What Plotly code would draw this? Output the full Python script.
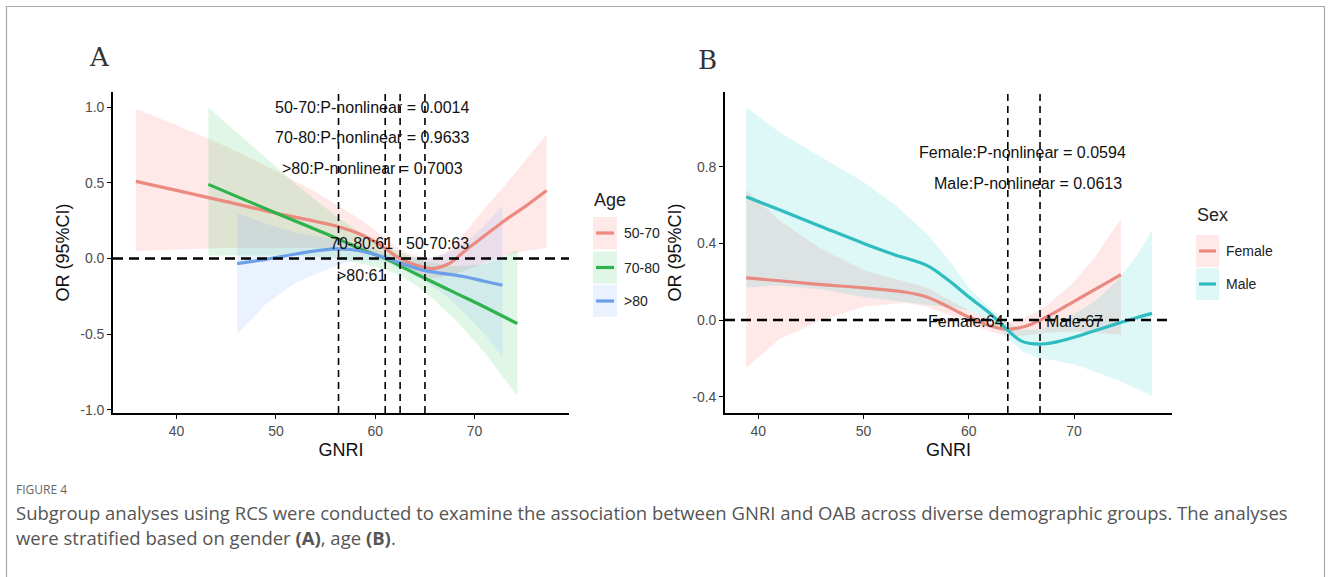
import plotly.graph_objects as go

W, H = 1330, 577

# ---------------- Panel A data (Age) ----------------
ageA_groups = ["50-70", "70-80", ">80"]
a1_x = [35.9, 40, 45, 50, 54, 56.3, 58.5, 60.5, 62, 63.5, 65, 66, 67.5, 69, 71, 73, 75, 77.25]
a1_y = [0.51, 0.45, 0.376, 0.30, 0.245, 0.21, 0.16, 0.09, 0.02, -0.03, -0.06, -0.065, -0.03, 0.05, 0.15, 0.25, 0.34, 0.45]
a1_lo = [0.05, 0.06, 0.07, 0.07, 0.07, 0.07, 0.05, 0.02, -0.04, -0.09, -0.12, -0.13, -0.11, -0.08, -0.03, 0.02, 0.05, 0.07]
a1_hi = [0.99, 0.88, 0.74, 0.58, 0.44, 0.35, 0.26, 0.16, 0.08, 0.03, 0.0, 0.0, 0.06, 0.17, 0.33, 0.48, 0.64, 0.82]

a2_x = [43.2, 48, 52, 56.25, 59, 61, 63, 65, 68, 71, 74.3]
a2_y = [0.49, 0.356, 0.246, 0.13, 0.05, 0.0, -0.065, -0.13, -0.225, -0.32, -0.43]
a2_lo = [0.02, 0.02, 0.02, 0.0, -0.04, -0.07, -0.13, -0.22, -0.4, -0.62, -0.91]
a2_hi = [1.0, 0.72, 0.49, 0.27, 0.15, 0.08, 0.03, -0.02, -0.05, -0.04, 0.055]

a3_x = [46.1, 49, 52, 55.5, 57.5, 59.5, 61.25, 63, 65, 67, 69, 71, 72.8]
a3_y = [-0.033, -0.005, 0.03, 0.062, 0.06, 0.035, 0.0, -0.04, -0.08, -0.1, -0.12, -0.15, -0.176]
a3_lo = [-0.5, -0.3, -0.16, -0.06, -0.02, -0.01, -0.03, -0.08, -0.15, -0.24, -0.36, -0.5, -0.65]
a3_hi = [0.3, 0.23, 0.17, 0.13, 0.11, 0.07, 0.03, 0.01, 0.0, 0.03, 0.1, 0.22, 0.35]

cutsA = [56.3, 61.0, 62.5, 65.0]
pTextA = ["50-70:P-nonlinear = 0.0014", "70-80:P-nonlinear = 0.9633", ">80:P-nonlinear = 0.7003"]
pTextA_x = [59.7, 59.7, 59.7]
pTextA_y = [0.995, 0.80, 0.593]
cutTextA = ["70-80:61", ">80:61", "50-70:63"]
cutTextA_x = [58.6, 58.6, 66.3]
cutTextA_y = [0.10, -0.11, 0.10]

xticksA = [40, 50, 60, 70]
yticksA = [1.0, 0.5, 0.0, -0.5, -1.0]
yticklabA = ["1.0", "0.5", "0.0", "-0.5", "-1.0"]

# ---------------- Panel B data (Sex) ----------------
sexB_groups = ["Female", "Male"]
b1_x = [38.84, 42, 46, 50, 54, 56, 58, 60, 62, 63.6, 64.8, 66, 67.5, 70, 72, 74.45]
b1_y = [0.22, 0.205, 0.185, 0.168, 0.145, 0.12, 0.07, 0.015, -0.03, -0.048, -0.04, -0.02, 0.02, 0.098, 0.16, 0.237]
b1_lo = [-0.25, -0.1, 0.0, 0.07, 0.09, 0.07, 0.03, -0.02, -0.06, -0.08, -0.085, -0.075, -0.065, -0.06, -0.065, -0.075]
b1_hi = [0.68, 0.52, 0.37, 0.26, 0.2, 0.17, 0.11, 0.05, 0.0, -0.015, 0.0, 0.03, 0.08, 0.2, 0.33, 0.53]

b2_x = [38.84, 42, 46, 50, 53, 56, 58, 60, 62, 63.6, 65, 66.7, 68, 70, 72, 74, 76, 77.4]
b2_y = [0.644, 0.575, 0.487, 0.40, 0.34, 0.285, 0.21, 0.12, 0.035, -0.048, -0.11, -0.126, -0.118, -0.09, -0.055, -0.02, 0.013, 0.035]
b2_lo = [0.17, 0.18, 0.16, 0.12, 0.10, 0.08, 0.07, 0.05, 0.0, -0.09, -0.16, -0.2, -0.21, -0.23, -0.27, -0.31, -0.36, -0.395]
b2_hi = [1.11, 0.98, 0.85, 0.72, 0.60, 0.45, 0.32, 0.17, 0.06, -0.01, -0.05, -0.05, -0.03, 0.03, 0.1, 0.2, 0.34, 0.47]

cutsB = [63.7, 66.76]
pTextB = ["Female:P-nonlinear = 0.0594", "Male:P-nonlinear = 0.0613"]
pTextB_x = [65.05, 65.6]
pTextB_y = [0.873, 0.713]
cutTextB = ["Female:64", "Male:67"]
cutTextB_x = [59.74, 70.0]
cutTextB_y = [-0.01, -0.01]

xticksB = [40, 50, 60, 70]
yticksB = [0.8, 0.4, 0.0, -0.4]
yticklabB = ["0.8", "0.4", "0.0", "-0.4"]

caption_label = "FIGURE 4"
caption_l1 = "Subgroup analyses using RCS were conducted to examine the association between GNRI and OAB across diverse demographic groups. The analyses"
caption_l2 = "were stratified based on gender <b>(A)</b>, age <b>(B)</b>."

# ---------------- styling ----------------
lineA = ["#EC8A80", "#2DB24C", "#6C9FEA"]
fillA = ["rgba(248,118,109,0.16)", "rgba(0,186,56,0.12)", "rgba(97,156,255,0.13)"]
lineB = ["#E98A82", "#2DBDC0"]
fillB = ["rgba(248,118,109,0.16)", "rgba(0,191,196,0.13)"]

FONT = "Liberation Sans, Arial, sans-serif"
CAPFONT = "Open Sans, Noto Sans, sans-serif"

def px_x(p):
    return p / W

def px_y(p):
    return 1 - p / H

fig = go.Figure()

def add_group(x, lo, hi, fill, xa, ya):
    fig.add_trace(go.Scatter(
        x=list(x) + list(x)[::-1], y=list(hi) + list(lo)[::-1],
        fill="toself", fillcolor=fill, line=dict(width=0), mode="lines",
        hoverinfo="skip", showlegend=False, xaxis=xa, yaxis=ya))

def add_line(x, y, color, xa, ya, name):
    fig.add_trace(go.Scatter(
        x=x, y=y, mode="lines", line=dict(color=color, width=3.2, shape="spline", smoothing=1.0),
        name=name, showlegend=False, xaxis=xa, yaxis=ya))

seriesA = [(a1_x, a1_y, a1_lo, a1_hi), (a2_x, a2_y, a2_lo, a2_hi), (a3_x, a3_y, a3_lo, a3_hi)]
for i, (x, y, lo, hi) in enumerate(seriesA):
    add_group(x, lo, hi, fillA[i], "x", "y")
for i, (x, y, lo, hi) in enumerate(seriesA):
    add_line(x, y, lineA[i], "x", "y", ageA_groups[i])

seriesB = [(b1_x, b1_y, b1_lo, b1_hi), (b2_x, b2_y, b2_lo, b2_hi)]
for i, (x, y, lo, hi) in enumerate(seriesB):
    add_group(x, lo, hi, fillB[i], "x2", "y2")
for i, (x, y, lo, hi) in enumerate(seriesB):
    add_line(x, y, lineB[i], "x2", "y2", sexB_groups[i])

shapes = []
for c in cutsA:
    shapes.append(dict(type="line", xref="x", yref="y domain", x0=c, x1=c, y0=0, y1=1,
                       line=dict(color="black", width=1.6, dash="7px,5px")))
shapes.append(dict(type="line", xref="x domain", yref="y", x0=0, x1=1, y0=0, y1=0,
                   line=dict(color="black", width=2.6, dash="10px,6px")))
for c in cutsB:
    shapes.append(dict(type="line", xref="x2", yref="y2 domain", x0=c, x1=c, y0=0, y1=1,
                       line=dict(color="black", width=1.6, dash="7px,5px")))
shapes.append(dict(type="line", xref="x2 domain", yref="y2", x0=0, x1=1, y0=0, y1=0,
                   line=dict(color="black", width=2.6, dash="10px,6px")))

# frame border
shapes.append(dict(type="path", xref="paper", yref="paper",
                   path=f"M {px_x(6.5)} 0 L {px_x(6.5)} {px_y(6.5)} L {px_x(1324.5)} {px_y(6.5)} L {px_x(1324.5)} 0",
                   line=dict(color="#a8a8a8", width=1.2)))

annotations = []
def data_text(texts, xs, ys, xr, yr):
    for t, x, y in zip(texts, xs, ys):
        annotations.append(dict(text=t, x=x, y=y, xref=xr, yref=yr, showarrow=False,
                                font=dict(family=FONT, size=16, color="#111")))

data_text(pTextA, pTextA_x, pTextA_y, "x", "y")
data_text(cutTextA, cutTextA_x, cutTextA_y, "x", "y")
data_text(pTextB, pTextB_x, pTextB_y, "x2", "y2")
data_text(cutTextB, cutTextB_x, cutTextB_y, "x2", "y2")

# panel letters
for letter, lx, ly in (("A", 87, 57), ("B", 696, 60)):
    annotations.append(dict(text=letter, x=px_x(lx), y=px_y(ly), xref="paper", yref="paper", xanchor="left",
                            yanchor="middle", showarrow=False,
                            font=dict(family="DejaVu Serif, Liberation Serif, serif", size=26, color="#333")))

def legend(title, names, lcols, fcols, x0, title_y, key_centers, key_w, key_h):
    annotations.append(dict(text=title, x=px_x(x0 - 1), y=px_y(title_y), xref="paper", yref="paper",
                            xanchor="left", yanchor="middle", showarrow=False,
                            font=dict(family=FONT, size=18, color="#222")))
    for n, lc, fc, cy in zip(names, lcols, fcols, key_centers):
        shapes.append(dict(type="rect", xref="paper", yref="paper",
                           x0=px_x(x0), x1=px_x(x0 + key_w),
                           y0=px_y(cy - key_h / 2), y1=px_y(cy + key_h / 2),
                           fillcolor=fc, line=dict(width=0)))
        shapes.append(dict(type="line", xref="paper", yref="paper",
                           x0=px_x(x0 + 3), x1=px_x(x0 + key_w - 3), y0=px_y(cy), y1=px_y(cy),
                           line=dict(color=lc, width=3.2)))
        annotations.append(dict(text=n, x=px_x(x0 + key_w + 5), y=px_y(cy), xref="paper", yref="paper",
                                xanchor="left", yanchor="middle", showarrow=False,
                                font=dict(family=FONT, size=14, color="#222")))

legend("Age", ageA_groups, lineA, fillA, 593, 200, [233, 267.5, 301], 24, 32)
legend("Sex", sexB_groups, lineB, fillB, 1196, 215, [251, 284], 23, 32)

# caption
annotations.append(dict(text=caption_label, x=px_x(14), y=px_y(489), xref="paper", yref="paper",
                        xanchor="left", yanchor="middle", showarrow=False,
                        font=dict(family=CAPFONT, size=12, color="#666")))
for txt, cy in ((caption_l1, 512), (caption_l2, 537)):
    annotations.append(dict(text=txt, x=px_x(14), y=px_y(cy), xref="paper", yref="paper",
                            xanchor="left", yanchor="middle", showarrow=False,
                            font=dict(family=CAPFONT, size=18.5, color="#555")))

axis_common = dict(showline=True, linecolor="black", linewidth=1.6, ticks="outside", ticklen=4,
                   tickwidth=1.2, tickcolor="black", showgrid=False, zeroline=False,
                   tickfont=dict(family=FONT, size=14, color="#4d4d4d"),
                   title_font=dict(family=FONT, size=18, color="#111"))

fig.update_layout(
    width=W, height=H, margin=dict(l=0, r=0, t=0, b=0, autoexpand=False),
    plot_bgcolor="white", paper_bgcolor="white", showlegend=False,
    xaxis=dict(domain=[px_x(113), px_x(569)], range=[33.6, 79.5], tickvals=xticksA,
               title=dict(text="GNRI", standoff=6), anchor="y", **axis_common),
    yaxis=dict(domain=[px_y(413), px_y(92)], range=[-1.02, 1.1], tickvals=yticksA, ticktext=yticklabA,
               title=dict(text="OR (95%CI)", standoff=6), anchor="x", **axis_common),
    xaxis2=dict(domain=[px_x(725), px_x(1172)], range=[36.83, 79.3], tickvals=xticksB,
                title=dict(text="GNRI", standoff=6), anchor="y2", **axis_common),
    yaxis2=dict(domain=[px_y(413), px_y(92)], range=[-0.485, 1.19], tickvals=yticksB, ticktext=yticklabB,
                title=dict(text="OR (95%CI)", standoff=6), anchor="x2", **axis_common),
    shapes=shapes, annotations=annotations,
)

fig.write_html("out.html", config={"displayModeBar": False},
               post_script="document.body.style.margin='0';document.body.style.overflow='hidden';")
